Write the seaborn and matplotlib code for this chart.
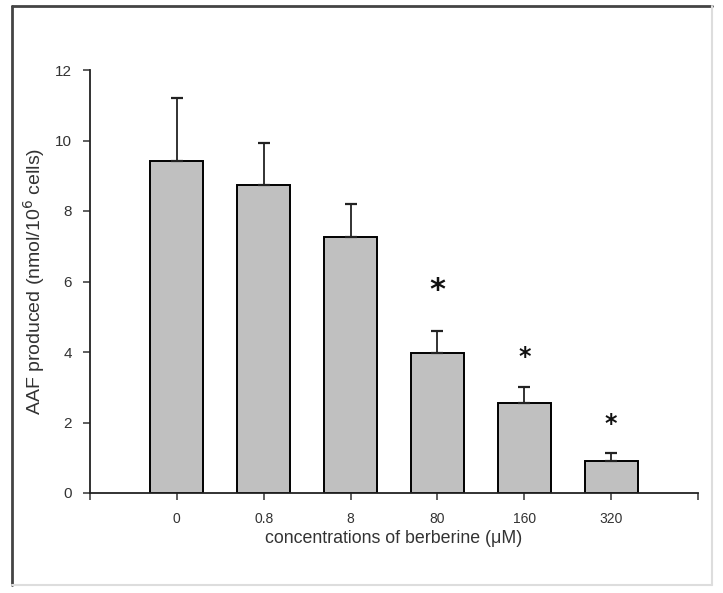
import matplotlib
matplotlib.use("Agg")
import matplotlib.pyplot as plt
import seaborn as sns
import pandas as pd
from matplotlib.lines import Line2D

concentrations = ["0", "0.8", "8", "80", "160", "320"]
aaf_mean = [9.42, 8.73, 7.26, 3.96, 2.56, 0.92]
aaf_err = [1.78, 1.19, 0.93, 0.64, 0.44, 0.21]
star_level = [None, None, None, 5.75, 3.85, 1.95]
star_size = [0, 0, 0, 22, 17, 17]

sns.set_theme(style="white")
plt.rcParams['font.family'] = ['Liberation Sans', 'DejaVu Sans']

df = pd.DataFrame({"conc": concentrations, "aaf": aaf_mean})

fig = plt.figure(figsize=(7.23, 5.93), dpi=100)
ax = fig.add_axes([90/723, 1-493/593, (698-90)/723, (493-70)/593])

sns.barplot(data=df, x="conc", y="aaf", color="#c0c0c0", edgecolor="black",
            linewidth=1.4, width=0.61, saturation=1, errorbar=None, ax=ax)
for p in ax.patches:
    p.set_facecolor("#c0c0c0")

xs = list(range(len(concentrations)))
ax.errorbar(xs, aaf_mean, yerr=[[0]*len(aaf_err), aaf_err], fmt="none",
            ecolor="#222222", elinewidth=1.3, capsize=4.5, capthick=1.6, zorder=1)

for x, lvl, s in zip(xs, star_level, star_size):
    if lvl is not None:
        ax.text(x, lvl, "*", ha="center", va="center", fontsize=s,
                fontweight="bold", color="#111111", family="DejaVu Sans")

ax.set_xlim(-1, 6)
ax.set_ylim(0, 12)
ax.set_yticks(range(0, 13, 2))
ax.set_xticks([-1] + xs + [6])
ax.set_xticklabels([""] + concentrations + [""])

for side in ["top", "right"]:
    ax.spines[side].set_visible(False)
for side in ["left", "bottom"]:
    ax.spines[side].set_color("#222222")
    ax.spines[side].set_linewidth(1.3)

ax.tick_params(axis="both", which="major", direction="out", length=5,
               width=1.1, color="#333333", labelcolor="#333333",
               left=True, bottom=True)
ax.tick_params(axis="y", pad=8, labelsize=11)
ax.tick_params(axis="x", pad=8.5, labelsize=10)

ax.set_xlabel("concentrations of berberine (\u03bcM)", fontsize=12.8,
              color="#333333", labelpad=3)
ax.set_ylabel("AAF produced (nmol/10$^6$ cells)", fontsize=14,
              color="#333333", labelpad=6)

# outer frame
fig.add_artist(Line2D([12/723, 12/723], [1-585/593, 1-6/593], color="#444444", lw=2, transform=fig.transFigure))
fig.add_artist(Line2D([12/723, 712/723], [1-6/593, 1-6/593], color="#444444", lw=2, transform=fig.transFigure))
fig.add_artist(Line2D([712/723, 712/723], [1-585/593, 1-6/593], color="#dddddd", lw=1.5, transform=fig.transFigure))
fig.add_artist(Line2D([12/723, 712/723], [1-585/593, 1-585/593], color="#dddddd", lw=1.5, transform=fig.transFigure))

fig.savefig("out.png", dpi=100)
